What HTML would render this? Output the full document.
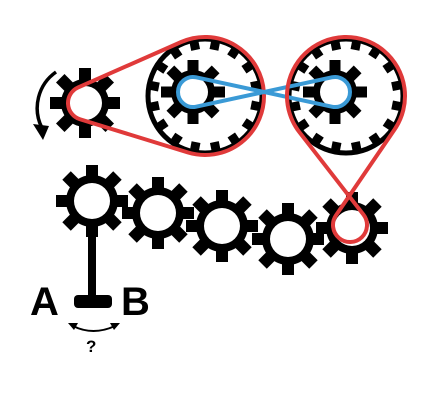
<!DOCTYPE html>
<html><head><meta charset="utf-8"><style>
html,body{margin:0;padding:0;background:#fff;}
svg{display:block;}
text{font-family:"Liberation Sans",sans-serif;font-weight:bold;}
</style></head><body>
<svg id="s" width="428" height="409" viewBox="0 0 428 409" xmlns="http://www.w3.org/2000/svg">
<rect width="428" height="409" fill="#fff"/>
<g id="rings"></g>
<g id="gears"></g>
<g id="belts"></g>
<path d="M56,72 A44,44 0 0 0 42,128" fill="none" stroke="#000" stroke-width="3.5"/>
<polygon points="33,124 49,126 43,140" fill="#000"/>
<rect x="88" y="225" width="8" height="75" fill="#000"/>
<rect x="74" y="295" width="38" height="13" rx="4" fill="#000"/>
<text x="30" y="315" font-size="40">A</text>
<text x="121" y="315" font-size="40">B</text>
<path d="M73,326 Q93,336 115,326" fill="none" stroke="#000" stroke-width="2"/>
<polygon points="68,323 78,323 74,330" fill="#000"/>
<polygon points="120,323 110,323 114,330" fill="#000"/>
<text x="86" y="352" font-size="17">?</text>
</svg>
<script>
const NS="http://www.w3.org/2000/svg";
const gearsG=document.getElementById('gears'),ringsG=document.getElementById('rings'),beltsG=document.getElementById('belts');
function mk(tag,attrs,parent){const e=document.createElementNS(NS,tag);for(const k in attrs)e.setAttribute(k,attrs[k]);parent.appendChild(e);return e;}
function gear(cx,cy,rb,rt,rh,n,tw,name,parent){
  const g=mk('g',{},parent);
  
  
  mk('circle',{cx:cx,cy:cy,r:rb,fill:'#000'},g);
  for(let i=0;i<n;i++){const a=360/n*i;
    mk('rect',{x:cx-tw/2,y:cy-rt,width:tw,height:rt-rb+2,fill:'#000',transform:`rotate(${a} ${cx} ${cy})`},g);}
  mk('circle',{cx:cx,cy:cy,r:rh,fill:'#fff'},g);
}
function ring(cx,cy,r,name){
  const g=mk('g',{},ringsG);
  
  
  mk('circle',{cx:cx,cy:cy,r:r,fill:'#fff',stroke:'#000','stroke-width':5},g);
  for(let i=0;i<16;i++){const a=360/16*i+11;
    mk('rect',{x:cx-4.5,y:cy-r,width:9,height:10,fill:'#000',transform:`rotate(${a} ${cx} ${cy})`},g);}
}
ring(205,96,57,'big-ring-gear-1');
ring(346,96,57,'big-ring-gear-2');
gear(193,92,22,32,15,8,11,'inner-gear-1',ringsG);
gear(335,92,22,32,15,8,11,'inner-gear-2',ringsG);
gear(85,103,24,35,17,8,12,'drive-gear',gearsG);
const rowX=[92,158,222,288,352],rowY=[201,213,226,239,228];
rowX.forEach((x,i)=>gear(x,rowY[i],26,36,18,8,12,'row-gear-'+(i+1),gearsG));
const P=(c,r,a)=>[c[0]+r*Math.cos(a),c[1]+r*Math.sin(a)];
function openBelt(c1,r1,c2,r2,col,w,name){
  const dx=c2[0]-c1[0],dy=c2[1]-c1[1],D=Math.hypot(dx,dy),t=Math.atan2(dy,dx),al=Math.acos((r1-r2)/D);
  const a1=P(c1,r1,t+al),b1=P(c1,r1,t-al),a2=P(c2,r2,t+al),b2=P(c2,r2,t-al);
  const p=mk('path',{d:`M${b1} L${b2} A${r2},${r2} 0 1 1 ${a2} L${a1} A${r1},${r1} 0 0 1 ${b1}Z`,fill:'none',stroke:col,'stroke-width':w},beltsG);
  
}
function crossBelt(c1,r1,c2,r2,col,w,name){
  const dx=c2[0]-c1[0],dy=c2[1]-c1[1],D=Math.hypot(dx,dy),t=Math.atan2(dy,dx),al=Math.acos((r1+r2)/D);
  const a1=P(c1,r1,t+al),b1=P(c1,r1,t-al),a2=P(c2,r2,t+al+Math.PI),b2=P(c2,r2,t-al+Math.PI);
  const p=mk('path',{d:`M${a1} L${a2} A${r2},${r2} 0 1 1 ${b2} L${b1} A${r1},${r1} 0 1 0 ${a1}Z`,fill:'none',stroke:col,'stroke-width':w},beltsG);
  
}
openBelt([85,103],17,[205,96],59,'#e03a3a',4,'red-belt-1');
crossBelt([193,92],15,[335,92],15,'#3a9ad6',4,'blue-crossed-belt');
crossBelt([346,96],59,[350,225],17,'#e03a3a',4,'red-crossed-belt-2');
</script>
</body></html>
